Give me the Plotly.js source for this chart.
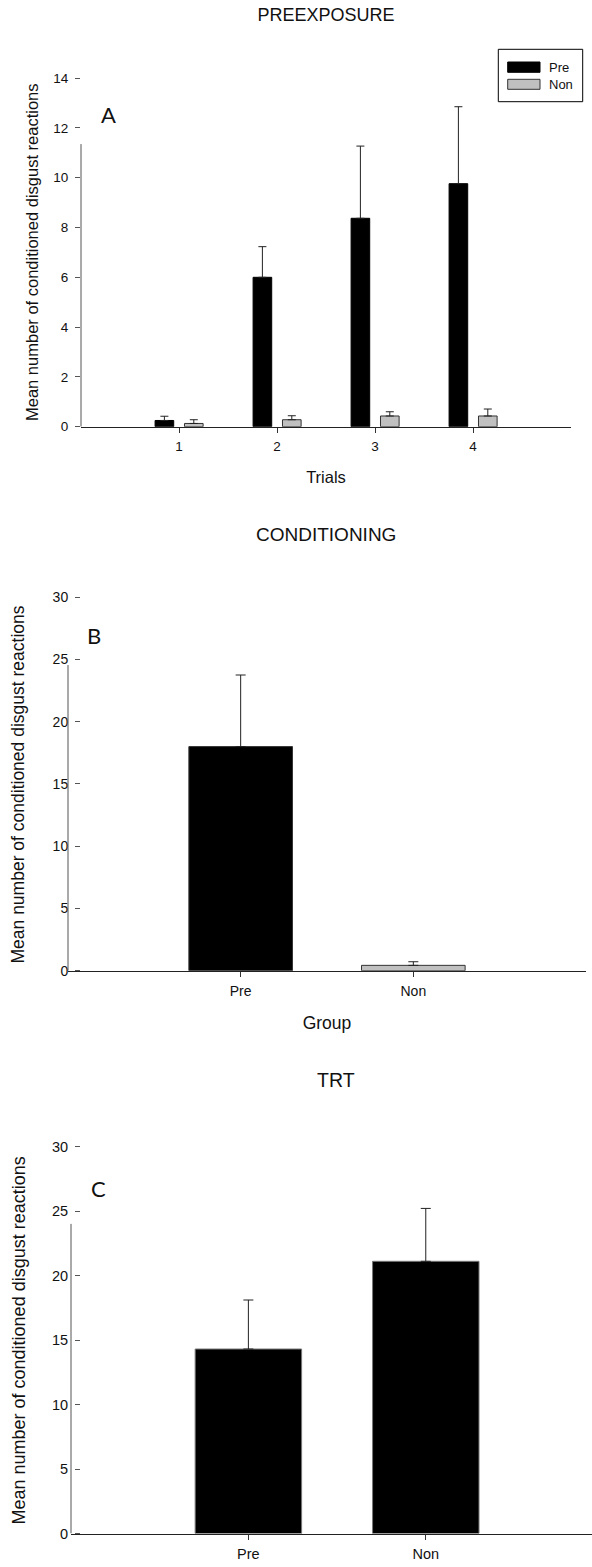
<!DOCTYPE html>
<html>
<head>
<meta charset="utf-8">
<script src="https://cdn.plot.ly/plotly-3.0.1.min.js"></script>
<style>html,body{margin:0;padding:0;background:#fff;}#chart{width:592px;height:1567px;}</style>
</head>
<body>
<div id="chart"></div>
<script>
// ---- data ----
var trials = [1, 2, 3, 4];
var preA = [0.25, 6.0, 8.37, 9.76];
var preAerr = [0.17, 1.23, 2.9, 3.09];
var nonA = [0.13, 0.28, 0.43, 0.43];
var nonAerr = [0.15, 0.16, 0.17, 0.28];

var groups = ['Pre', 'Non'];
var condB = [18.0, 0.43];
var condBerr = [5.75, 0.29];

var trtC = [14.3, 21.1];
var trtCerr = [3.8, 4.1];

var yTicksA = [0, 2, 4, 6, 8, 10, 12, 14];
var yTicksBC = [0, 5, 10, 15, 20, 25, 30];

// ---- helpers ----
var W = 592, H = 1567;
function fx(p) { return p / W; }
function fy(p) { return 1 - p / H; }
var FONT = 'Liberation Sans, Arial, sans-serif';
var LETTER = 'Lato, Open Sans, sans-serif';
var zeros = function (a) { return a.map(function () { return 0; }); };

function errY(arr, w) {
  return {type: 'data', symmetric: false, array: arr, arrayminus: zeros(arr),
          color: '#222', thickness: 1, width: w, visible: true};
}

var traces = [
  {type: 'bar', name: 'Pre', x: trials, y: preA, width: 0.19, offset: -0.244,
   marker: {color: '#000', line: {color: '#000', width: 1}}, error_y: errY(preAerr, 4),
   xaxis: 'x', yaxis: 'y', showlegend: false},
  {type: 'bar', name: 'Non', x: trials, y: nonA, width: 0.19, offset: 0.056,
   marker: {color: '#c0c0c0', line: {color: '#333', width: 1}}, error_y: errY(nonAerr, 4),
   xaxis: 'x', yaxis: 'y', showlegend: false},
  {type: 'bar', name: 'Conditioning', x: groups, y: condB, width: 0.6,
   marker: {color: ['#000', '#c0c0c0'], line: {color: '#333', width: 1}}, error_y: errY(condBerr, 5),
   xaxis: 'x2', yaxis: 'y2', showlegend: false},
  {type: 'bar', name: 'TRT', x: groups, y: trtC, width: 0.6,
   marker: {color: '#000', line: {color: '#777', width: 1}}, error_y: errY(trtCerr, 5),
   xaxis: 'x3', yaxis: 'y3', showlegend: false}
];

var yTitle = 'Mean number of conditioned disgust reactions';
function yaxisDef(range, ticks, dom, fs) {
  return {range: range, domain: dom, tickvals: ticks, ticks: 'outside', ticklen: 5,
          tickcolor: '#555', tickwidth: 1, showline: false, showgrid: false, zeroline: false,
          ticklabelstandoff: 4,
          tickfont: {family: FONT, size: fs, color: '#111'}, fixedrange: true};
}
function xaxisDef(range, dom, anchor, title, tickvals, fs, tfs) {
  var a = {range: range, domain: dom, anchor: anchor, ticks: 'outside', ticklen: 5,
           tickcolor: '#333', tickwidth: 1, showline: true, linecolor: '#222', linewidth: 1.5,
           showgrid: false, zeroline: false, fixedrange: true, ticklabelstandoff: 2,
           tickfont: {family: FONT, size: fs, color: '#111'}};
  if (tickvals) { a.tickvals = tickvals; }
  if (title) { a.title = {text: title, font: {family: FONT, size: tfs, color: '#111'}, standoff: 18}; }
  return a;
}
function note(text, x, y, size, family, angle) {
  var a = {text: text, xref: 'paper', yref: 'paper', x: fx(x), y: fy(y), xanchor: 'center', yanchor: 'middle',
           showarrow: false, font: {family: family || FONT, size: size, color: '#111'}};
  if (angle) { a.textangle = angle; }
  return a;
}

var layout = {
  width: W, height: H,
  margin: {l: 0, r: 0, t: 0, b: 0},
  paper_bgcolor: '#fff', plot_bgcolor: '#fff',
  barmode: 'overlay',
  showlegend: false,
  title: {text: 'PREEXPOSURE', font: {family: FONT, size: 18, color: '#111'},
          x: fx(326), xanchor: 'center', y: fy(15), yanchor: 'middle', xref: 'paper', yref: 'container'},
  xaxis: xaxisDef([0, 5], [fx(81), fx(571)], 'y', 'Trials', trials, 13.5, 16.5),
  yaxis: yaxisDef([0, 14], yTicksA, [fy(426.7), fy(78.1)], 13.5),
  xaxis2: xaxisDef([-1, 2], [fx(68), fx(586)], 'y2', 'Group', null, 14, 17.5),
  yaxis2: yaxisDef([0, 30], yTicksBC, [fy(970.7), fy(597.2)], 14),
  xaxis3: xaxisDef([-1, 1.937], [fx(71), 1], 'y3', null, null, 14.5, 17.5),
  yaxis3: yaxisDef([0, 30], yTicksBC, [fy(1533.5), fy(1146.5)], 14.5),
  shapes: [
    {type: 'line', xref: 'x domain', yref: 'y', x0: 0, x1: 0, y0: 0, y1: 11.35, line: {color: '#555', width: 1}},
    {type: 'line', xref: 'x2 domain', yref: 'y2', x0: 0, x1: 0, y0: 0, y1: 24.55, line: {color: '#555', width: 1}},
    {type: 'line', xref: 'x3 domain', yref: 'y3', x0: 0, x1: 0, y0: 0, y1: 24.0, line: {color: '#555', width: 1}},
    // legend box
    {type: 'rect', xref: 'paper', yref: 'paper', x0: fx(498.3), x1: fx(582.7), y0: fy(101.7), y1: fy(49.3),
     line: {color: '#000', width: 1}, fillcolor: 'rgba(0,0,0,0)'},
    {type: 'rect', xref: 'paper', yref: 'paper', x0: fx(507.7), x1: fx(540), y0: fy(72.3), y1: fy(62),
     line: {color: '#000', width: 1}, fillcolor: '#000'},
    {type: 'rect', xref: 'paper', yref: 'paper', x0: fx(507.7), x1: fx(540), y0: fy(89.3), y1: fy(79.3),
     line: {color: '#333', width: 1}, fillcolor: '#c0c0c0'}
  ],
  annotations: [
    {text: 'Pre', xref: 'paper', yref: 'paper', x: fx(547), y: fy(67.2), xanchor: 'left', yanchor: 'middle',
     showarrow: false, font: {family: FONT, size: 13, color: '#111'}},
    {text: 'Non', xref: 'paper', yref: 'paper', x: fx(547), y: fy(84.3), xanchor: 'left', yanchor: 'middle',
     showarrow: false, font: {family: FONT, size: 13, color: '#111'}},
    note('CONDITIONING', 326, 534, 19),
    note('TRT', 336, 1080, 19.5),
    note(yTitle, 31.5, 252.5, 16.5, FONT, -90),
    note(yTitle, 17, 784.5, 17.5, FONT, -90),
    note(yTitle, 18.5, 1341, 18, FONT, -90),
    note('A', 108.5, 115, 22, LETTER),
    note('B', 94.3, 635, 22, LETTER),
    note('C', 98, 1188, 22, LETTER)
  ]
};

Plotly.newPlot('chart', traces, layout, {displayModeBar: false, staticPlot: true});
</script>
</body>
</html>
